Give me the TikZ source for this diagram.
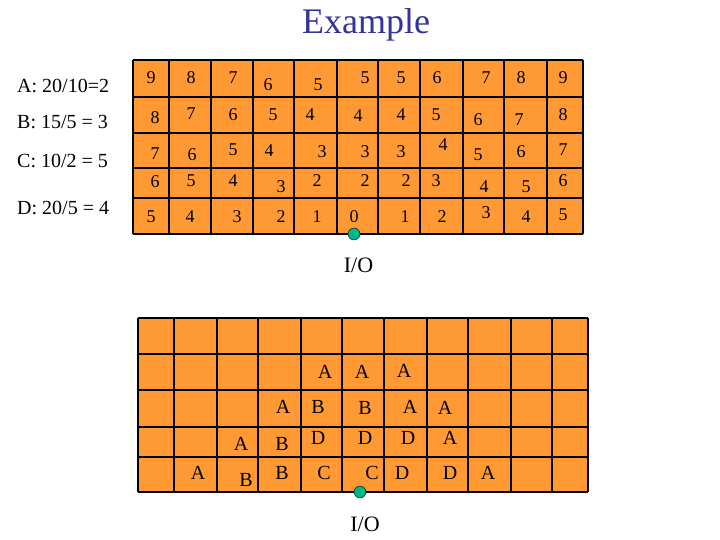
\documentclass[tikz,border=0pt]{standalone}
\usepackage{fontspec}
\setmainfont{Liberation Serif}
\usepackage{xcolor}
\usepackage{tikz}

\definecolor{cellorange}{RGB}{255,153,51}
\definecolor{dotgreen}{RGB}{0,180,140}
\definecolor{titleblue}{RGB}{51,51,153}

\tikzset{
	digit/.style={inner sep=0, font=\fontsize{18}{18}\selectfont},
	blockl/.style={inner sep=0, font=\fontsize{20}{20}\selectfont},
	rate/.style={inner sep=0, anchor=west, font=\fontsize{20}{20}\selectfont},
	iolbl/.style={inner sep=0, font=\fontsize{22}{22}\selectfont},
	dot/.style={circle, draw=black, fill=dotgreen, minimum size=12pt, inner sep=0}
}

\begin{document}
\begin{tikzpicture}[x=1pt, y=-1pt]
		\useasboundingbox (0,0) rectangle (720,540);
		
		\node[inner sep=0, anchor=base, titleblue, font=\fontsize{36}{36}\selectfont] (title) at (366,33.5) {Example};
		
		% rates
		\node[rate] (ra) at (17,85.5) {A: 20/10=2};
		\node[rate] (rb) at (17,122.5) {B: 15/5 = 3};
		\node[rate] (rc) at (17,161) {C: 10/2 = 5};
		\node[rate] (rd) at (17,208) {D: 20/5 = 4};
		
		% top grid
		\fill[cellorange] (133,60) rectangle (583,234);
		\foreach \x in {133,169,211,253,294,337,378,420,463,504,547,583}
			\draw[line width=1.3pt] (\x,60) -- (\x,234);
		\foreach \y in {60,97,133,168,198,234}
			\draw[line width=1.3pt] (133,\y) -- (583,\y);
		
		\foreach \x/\y/\v [count=\i] in {
			151/78/9, 191/78/8, 233/78/7, 268/85/6, 318/85/5, 365/78/5, 401/78/5, 437/78/6, 486/78/7, 521/78/8, 563/78/9,
			155/118/8, 191/114/7, 233/115/6, 273/115/5, 310/115/4, 358/116/4, 401/115/4, 436/115/5, 478/120/6, 519/120/7, 563/115/8,
			155/154/7, 192/155/6, 233/150/5, 269/151/4, 322/152/3, 365/152/3, 401/152/3, 443/145/4, 478/155/5, 521/152/6, 563/150/7,
			155/182/6, 191/181/5, 233/181/4, 281/187/3, 317/181/2, 365/181/2, 406/181/2, 436/181/3, 484/187/4, 526/187/5, 563/181/6,
			151/217/5, 190/217/4, 237/217/3, 281/217/2, 317/217/1, 354/217/0, 405/217/1, 442/217/2, 486/213/3, 526/217/4, 563/215/5}
			\node[digit] (d\i) at (\x,\y) {\v};
		
		\node[dot] (iotop) at (354,234) {};
		\node[iolbl] (iotoplbl) at (358.5,265) {I/O};
		
		% bottom grid
		\fill[cellorange] (138,318) rectangle (588,492);
		\foreach \x in {138,174,217,258,301,342,384,427,468,511,552,588}
			\draw[line width=1.3pt] (\x,318) -- (\x,492);
		\foreach \y in {318,354,390,427,457,492}
			\draw[line width=1.3pt] (138,\y) -- (588,\y);
		
		\foreach \x/\y/\v [count=\i] in {
			325/372/A, 362/372/A, 404/371/A,
			283/407/A, 318/407/B, 365/408/B, 410/407/A, 445/408/A,
			241/444/A, 282/444/B, 318/438/D, 365/438/D, 408/438/D, 450/438/A,
			198/473/A, 246/480/B, 282/473/B, 324/473/C, 372/473/C, 402/473/D, 450/473/D, 488/473/A}
			\node[blockl] (b\i) at (\x,\y) {\v};
		
		\node[dot] (iobot) at (360,492) {};
		\node[iolbl] (iobotlbl) at (365,524) {I/O};
	\end{tikzpicture}
\end{document}
